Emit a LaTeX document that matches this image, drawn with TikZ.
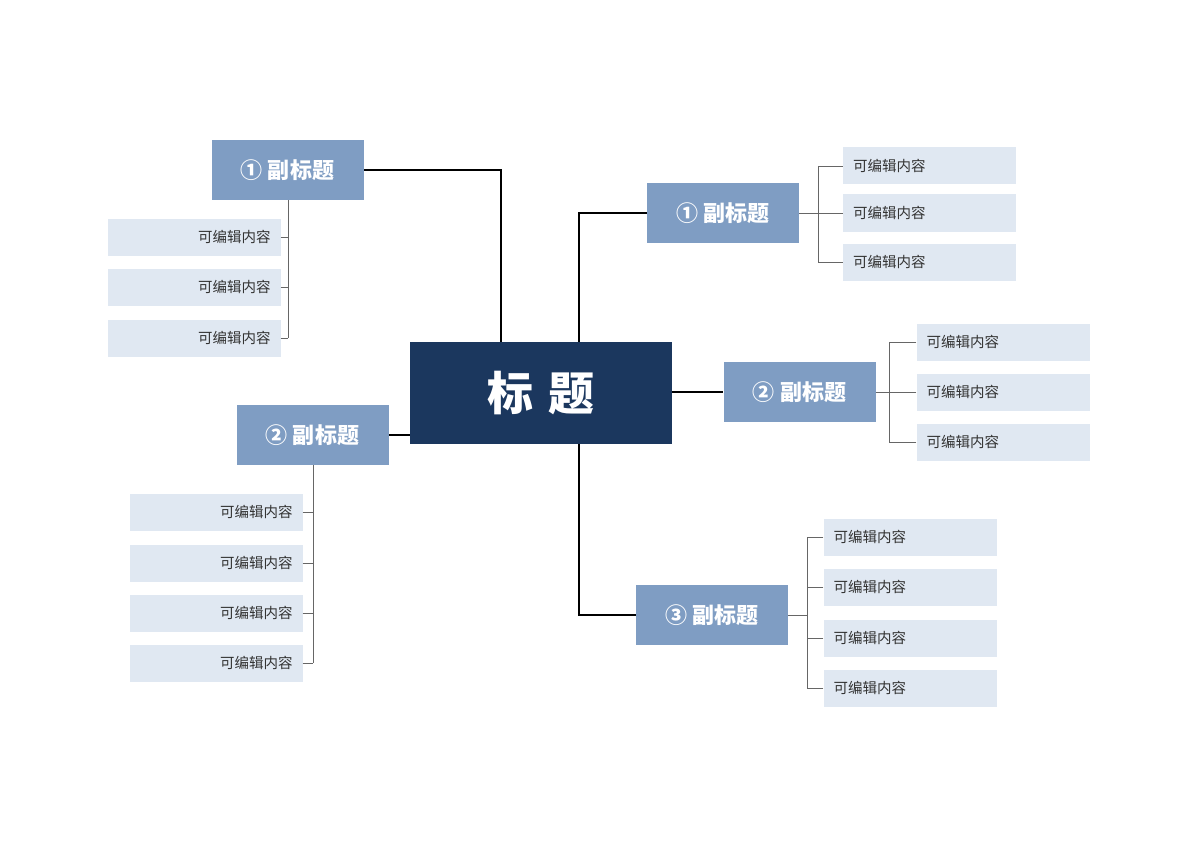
\documentclass[tikz,border=0pt]{standalone}
\usepackage{fontspec}
\setmainfont{Noto Sans CJK SC}
\definecolor{navy}{HTML}{1B375E}
\definecolor{subblue}{HTML}{7F9DC3}
\definecolor{leafblue}{HTML}{E0E8F2}
\definecolor{leaftext}{HTML}{333333}

\begin{document}
\begin{tikzpicture}[x=1pt,y=-1pt,
  main node/.style={fill=navy,text=white,minimum width=262pt,minimum height=102pt,inner sep=0pt,font=\fontsize{46}{50}\selectfont\bfseries},
  sub node/.style={fill=subblue,text=white,minimum width=152pt,minimum height=60pt,inner sep=0pt,font=\fontsize{22}{26}\selectfont\bfseries},
  leaf node/.style={fill=leafblue,text=leaftext,minimum width=173pt,minimum height=37pt,text width=153pt,inner sep=0pt,font=\fontsize{14.5}{17}\selectfont},
  lleaf/.style={leaf node,align=right},
  rleaf/.style={leaf node,align=left},
  trunk/.style={draw=black,line width=1.4pt},
  twig/.style={draw=black!60,line width=0.9pt}]
  \useasboundingbox (0,0) rectangle (1200,848);

  \node[main node] (c) at (541,393) {标\,\,题};
  \node[sub node] (l1) at (287.5,170) {① 副标题};
  \node[sub node] (l2) at (312.5,435) {② 副标题};
  \node[sub node] (r1) at (723,213) {① 副标题};
  \node[sub node] (r2) at (799.5,392) {② 副标题};
  \node[sub node] (r3) at (712,615) {③ 副标题};

  % main branches
  \draw[trunk] (c.north -| 501,0) |- (l1.east);
  \draw[trunk] (c.north -| 579,0) |- (r1.west);
  \draw[trunk] (c.east |- r2) -- (r2.west);
  \draw[trunk] (c.west |- l2) -- (l2.east);
  \draw[trunk] (c.south -| 579,0) |- (r3.west);

  % leaves, upper left
  \foreach \i/\y in {1/237,2/287,3/338} {
    \node[lleaf] (l1\i) at (194,\y) {可编辑内容};
    \draw[twig] (l1\i.east) -- (288,\y);
  }
  \draw[twig] (l1.south -| 288,0) -- (288,338);

  % leaves, lower left
  \foreach \i/\y in {1/512,2/563,3/613,4/663} {
    \node[lleaf] (l2\i) at (216,\y) {可编辑内容};
    \draw[twig] (l2\i.east) -- (313,\y);
  }
  \draw[twig] (l2.south -| 313,0) -- (313,663);

  % leaves, upper right
  \foreach \i/\y in {1/166,2/213,3/262} {
    \node[rleaf] (r1\i) at (929.5,\y) {可编辑内容};
    \draw[twig] (r1\i.west) -- (818,\y);
  }
  \draw[twig] (r1.east) -- (818,213);
  \draw[twig] (818,166) -- (818,262);

  % leaves, middle right
  \foreach \i/\y in {1/342,2/392,3/442} {
    \node[rleaf] (r2\i) at (1003,\y) {可编辑内容};
    \draw[twig] (r2\i.west) -- (889,\y);
  }
  \draw[twig] (r2.east) -- (889,392);
  \draw[twig] (889,342) -- (889,442);

  % leaves, lower right
  \foreach \i/\y in {1/537,2/587,3/638,4/688} {
    \node[rleaf] (r3\i) at (910,\y) {可编辑内容};
    \draw[twig] (r3\i.west) -- (807,\y);
  }
  \draw[twig] (r3.east) -- (807,615);
  \draw[twig] (807,537) -- (807,688);
\end{tikzpicture}
\end{document}
